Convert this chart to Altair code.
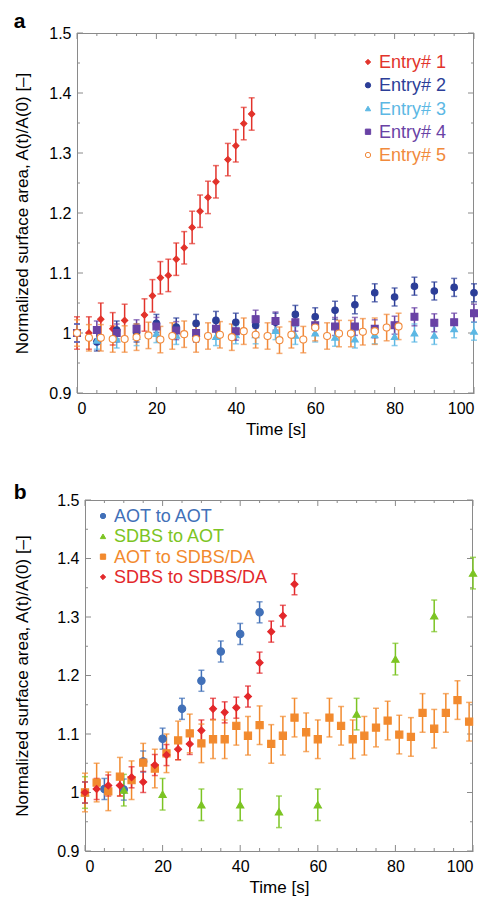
import altair as alt
import pandas as pd

FONT = "Liberation Sans"

# ---------------- Panel a data ----------------
A_SERIES = ["Entry# 1", "Entry# 2", "Entry# 3", "Entry# 4", "Entry# 5"]
A_COLORS = ["#e2332b", "#2c3e98", "#5cb8e4", "#6942a5", "#f18a3c"]
A_FILLS = ["#e2332b", "#2c3e98", "#5cb8e4", "#6942a5", "#ffffff"]
A_SHAPES = ["diamond", "circle", "triangle-up", "square", "circle"]
A_SIZES = [40, 50, 45, 50, 60]
A_ERR = [0.027, 0.015, 0.015, 0.015, 0.022]

e1_t = [0, 3, 6, 9, 12, 17, 19, 21, 23, 25, 27, 29, 31, 33, 35, 38, 40, 42, 44]
e1_v = [1.0, 1.0, 1.023, 1.007, 1.021, 1.030, 1.062, 1.092, 1.096, 1.123, 1.142,
        1.176, 1.203, 1.226, 1.252, 1.289, 1.312, 1.349, 1.365]
e2_t = [0, 5, 10, 15, 20, 25, 30, 35, 40, 45, 50, 55, 60, 65, 70, 75, 80, 85, 90, 95, 100]
e2_v = [1.0, 0.985, 1.005, 1.0, 1.016, 1.010, 1.016, 1.021, 1.018, 1.013, 1.018,
        1.031, 1.027, 1.038, 1.047, 1.067, 1.060, 1.078, 1.070, 1.076, 1.067]
e3_t = [0, 5, 10, 15, 20, 25, 30, 35, 40, 45, 50, 55, 60, 65, 70, 75, 80, 85, 90, 95, 100]
e3_v = [1.0, 0.988, 0.990, 0.994, 0.999, 0.996, 1.0, 0.994, 0.997, 0.997, 1.004,
        0.996, 1.0, 0.993, 0.990, 0.997, 0.994, 1.0, 0.996, 1.007, 1.003]
e4_t = [0, 5, 10, 15, 20, 25, 30, 35, 40, 45, 50, 55, 60, 65, 70, 75, 80, 85, 90, 95, 100]
e4_v = [1.0, 1.005, 1.0, 1.007, 1.011, 1.004, 1.0, 1.007, 1.003, 1.023, 1.020,
        1.018, 1.013, 1.011, 1.011, 1.007, 1.013, 1.027, 1.017, 1.018, 1.033]
e5_t = [0, 3, 6, 9, 12, 15, 18, 21, 24, 27, 30, 33, 36, 39, 42, 45, 48, 51, 54, 57,
        60, 63, 66, 69, 72, 75, 78, 81]
e5_v = [1.0, 0.992, 0.992, 0.990, 0.990, 0.993, 0.996, 0.989, 0.995, 0.998, 0.990,
        0.995, 0.997, 0.993, 1.003, 0.997, 0.995, 0.988, 0.997, 0.989, 1.009, 0.995,
        0.999, 0.999, 1.002, 1.003, 1.009, 1.011]

# ---------------- Panel b data ----------------
B_SERIES = ["AOT to AOT", "SDBS to AOT", "AOT to SDBS/DA", "SDBS to SDBS/DA"]
B_COLORS = ["#4170b8", "#7cc423", "#f28a2e", "#e3282b"]
B_FILLS = ["#4170b8", "#7cc423", "#f28a2e", "#e3282b"]
B_SHAPES = ["circle", "triangle-up", "square", "diamond"]
B_SIZES = [55, 50, 50, 45]
B_ERR = [0.018, 0.027, 0.033, 0.018]

b1_t = [0, 5, 10, 15, 20, 25, 30, 35, 40, 45]
b1_v = [1.0, 1.006, 1.005, 1.053, 1.092, 1.143, 1.191, 1.241, 1.271, 1.308]
b2_t = [0, 10, 20, 30, 40, 50, 60, 70, 80, 90, 100]
b2_v = [1.0, 1.004, 0.997, 0.979, 0.979, 0.967, 0.979, 1.134, 1.228, 1.302, 1.375]
b3_t = [0, 3, 6, 9, 12, 15, 18, 21, 24, 27, 30, 33, 36, 39, 42, 45, 48, 51, 54, 57,
        60, 63, 66, 69, 72, 75, 78, 81, 84, 87, 90, 93, 96, 99]
b3_v = [1.0, 1.017, 1.002, 1.027, 1.021, 1.051, 1.041, 1.067, 1.089, 1.101, 1.084,
        1.091, 1.091, 1.114, 1.097, 1.115, 1.083, 1.097, 1.128, 1.103, 1.091, 1.128,
        1.114, 1.091, 1.097, 1.111, 1.123, 1.099, 1.095, 1.136, 1.109, 1.136, 1.158, 1.121]
b4_t = [0, 3, 6, 9, 12, 15, 18, 21, 24, 27, 30, 33, 36, 39, 42, 45, 48, 51, 54]
b4_v = [1.0, 1.006, 1.012, 1.012, 1.026, 1.018, 1.047, 1.064, 1.074, 1.083, 1.106,
        1.143, 1.137, 1.145, 1.164, 1.222, 1.275, 1.302, 1.356]

# ---------------- axis ticks ----------------
X_MAJOR = [0, 20, 40, 60, 80, 100]
X_MINOR = [5, 10, 15, 25, 30, 35, 45, 50, 55, 65, 70, 75, 85, 90, 95]
Y_MAJOR = [0.9, 1.0, 1.1, 1.2, 1.3, 1.4, 1.5]
Y_MINOR = [0.95, 1.05, 1.15, 1.25, 1.35, 1.45]

Y_TITLE = "Normalized surface area, A(t)/A(0) [–]"
FRAME = "#8a8a8a"


def build_df(series, ts, vs, errs):
    rows = []
    for name, t_list, v_list, e in zip(series, ts, vs, errs):
        for t, v in zip(t_list, v_list):
            rows.append({"series": name, "t": t, "v": v, "lo": v - e, "hi": v + e})
    return pd.DataFrame(rows)


def panel(df, series, colors, fills, shapes, sizes, w, h, x0, letter, title_off,
          leg_sym_x, leg_txt_x, leg_y0, leg_y1, title_pad):
    # x0: left inset of the plot frame inside the panel group
    xscale = alt.Scale(domain=[0, 100], nice=False, zero=False, range=[x0, w])
    yscale = alt.Scale(domain=[0.9, 1.5], nice=False, zero=False)
    xaxis = alt.Axis(values=X_MAJOR, title="Time [s]", ticks=False, grid=False,
                     labelPadding=7, titlePadding=5)
    yaxis = alt.Axis(values=Y_MAJOR, title=Y_TITLE, ticks=False, grid=False,
                     format="~g", labelPadding=6, titlePadding=title_pad, offset=-x0)
    X = lambda f: alt.X(f, type="quantitative", scale=xscale, axis=xaxis)
    Y = lambda f: alt.Y(f, type="quantitative", scale=yscale, axis=yaxis)
    col = alt.Color("series:N", scale=alt.Scale(domain=series, range=colors), legend=None)
    fil = alt.Fill("series:N", scale=alt.Scale(domain=series, range=fills), legend=None)
    stk = alt.Stroke("series:N", scale=alt.Scale(domain=series, range=colors), legend=None)
    shp = alt.Shape("series:N", scale=alt.Scale(domain=series, range=shapes), legend=None)

    base = alt.Chart(df)
    bars = base.mark_rule(strokeWidth=1.5).encode(x=X("t"), y=Y("lo"), y2="hi", color=col)
    cap_lo = base.mark_tick(orient="horizontal", size=6, thickness=1.5).encode(
        x=X("t"), y=Y("lo"), color=col)
    cap_hi = base.mark_tick(orient="horizontal", size=6, thickness=1.5).encode(
        x=X("t"), y=Y("hi"), color=col)
    pts = base.mark_point(opacity=1, strokeWidth=1.1).encode(
        x=X("t"), y=Y("v"), fill=fil, stroke=stk, shape=shp,
        size=alt.Size("series:N", scale=alt.Scale(domain=series, range=sizes), legend=None),
    )

    xmaj = pd.DataFrame({"t": X_MAJOR})
    xmin = pd.DataFrame({"t": X_MINOR})
    ymaj = pd.DataFrame({"v": Y_MAJOR})
    ymin = pd.DataFrame({"v": Y_MINOR})
    tk = dict(color=FRAME, strokeWidth=1)
    frame_df = pd.DataFrame({"k": [0]})
    layers = [
        # top and right frame lines (left/bottom are the axis domains)
        alt.Chart(frame_df).mark_rule(**tk).encode(
            x=alt.value(x0), x2=alt.value(w), y=alt.value(0.5)),
        alt.Chart(frame_df).mark_rule(**tk).encode(
            x=alt.value(w - 0.5), y=alt.value(0), y2=alt.value(h)),
        alt.Chart(xmaj).mark_rule(**tk).encode(x=X("t"), y=alt.value(h), y2=alt.value(h - 6)),
        alt.Chart(xmaj).mark_rule(**tk).encode(x=X("t"), y=alt.value(0), y2=alt.value(6)),
        alt.Chart(xmin).mark_rule(**tk).encode(x=X("t"), y=alt.value(h), y2=alt.value(h - 3)),
        alt.Chart(xmin).mark_rule(**tk).encode(x=X("t"), y=alt.value(0), y2=alt.value(3)),
        alt.Chart(ymaj).mark_rule(**tk).encode(y=Y("v"), x=alt.value(x0), x2=alt.value(x0 + 6)),
        alt.Chart(ymaj).mark_rule(**tk).encode(y=Y("v"), x=alt.value(w), x2=alt.value(w - 6)),
        alt.Chart(ymin).mark_rule(**tk).encode(y=Y("v"), x=alt.value(x0), x2=alt.value(x0 + 3)),
        alt.Chart(ymin).mark_rule(**tk).encode(y=Y("v"), x=alt.value(w), x2=alt.value(w - 3)),
        bars, cap_lo, cap_hi, pts,
    ]
    main = alt.layer(*layers)

    # legend built from the series list
    leg_df = pd.DataFrame({"series": series})
    ly = alt.Y("series:N", scale=alt.Scale(type="point", domain=series,
                                          range=[leg_y0, leg_y1], padding=0), axis=None)
    leg_sym = alt.Chart(leg_df).mark_point(opacity=1, strokeWidth=1).encode(
        x=alt.value(x0 + leg_sym_x), y=ly, fill=fil, stroke=stk, shape=shp, size=alt.value(28))
    leg_txt = alt.Chart(leg_df).mark_text(
        align="left", baseline="middle", font=FONT, fontSize=18, dy=1).encode(
        x=alt.value(x0 + leg_txt_x), y=ly, text="series:N", color=col)
    legend = alt.layer(leg_sym, leg_txt)

    return alt.layer(main, legend).resolve_scale(y="independent").properties(
        width=w, height=h,
        title=alt.TitleParams(letter, anchor="start", frame="bounds", fontSize=21,
                              fontWeight="bold", font=FONT, color="black",
                              offset=title_off, dy=-4),
    )


df_a = build_df(A_SERIES, [e1_t, e2_t, e3_t, e4_t, e5_t], [e1_v, e2_v, e3_v, e4_v, e5_v], A_ERR)
df_b = build_df(B_SERIES, [b1_t, b2_t, b3_t, b4_t], [b1_v, b2_v, b3_v, b4_v], B_ERR)

pa = panel(df_a, A_SERIES, A_COLORS, A_FILLS, A_SHAPES, A_SIZES,
           397, 360, 0, "a", -11, 291, 302, 29, 122, 17)
pb = panel(df_b, B_SERIES, B_COLORS, B_FILLS, B_SHAPES, B_SIZES,
           396, 351, 8, "b", -15, 18, 29, 16, 77, 25)

chart = alt.vconcat(pa, pb, spacing=45).resolve_scale(
    fill="independent", stroke="independent", shape="independent", size="independent",
    color="independent"
).properties(
    background="white", padding={"left": 5, "top": 3, "right": 0, "bottom": 5}
).configure_axis(
    labelFont=FONT, titleFont=FONT, labelFontSize=16, titleFontSize=17,
    titleFontWeight="normal", labelColor="black", titleColor="black",
    domainColor=FRAME, domainWidth=1
).configure_view(strokeWidth=0)

chart.save("out.html", embed_options={"renderer": "svg", "actions": False})
